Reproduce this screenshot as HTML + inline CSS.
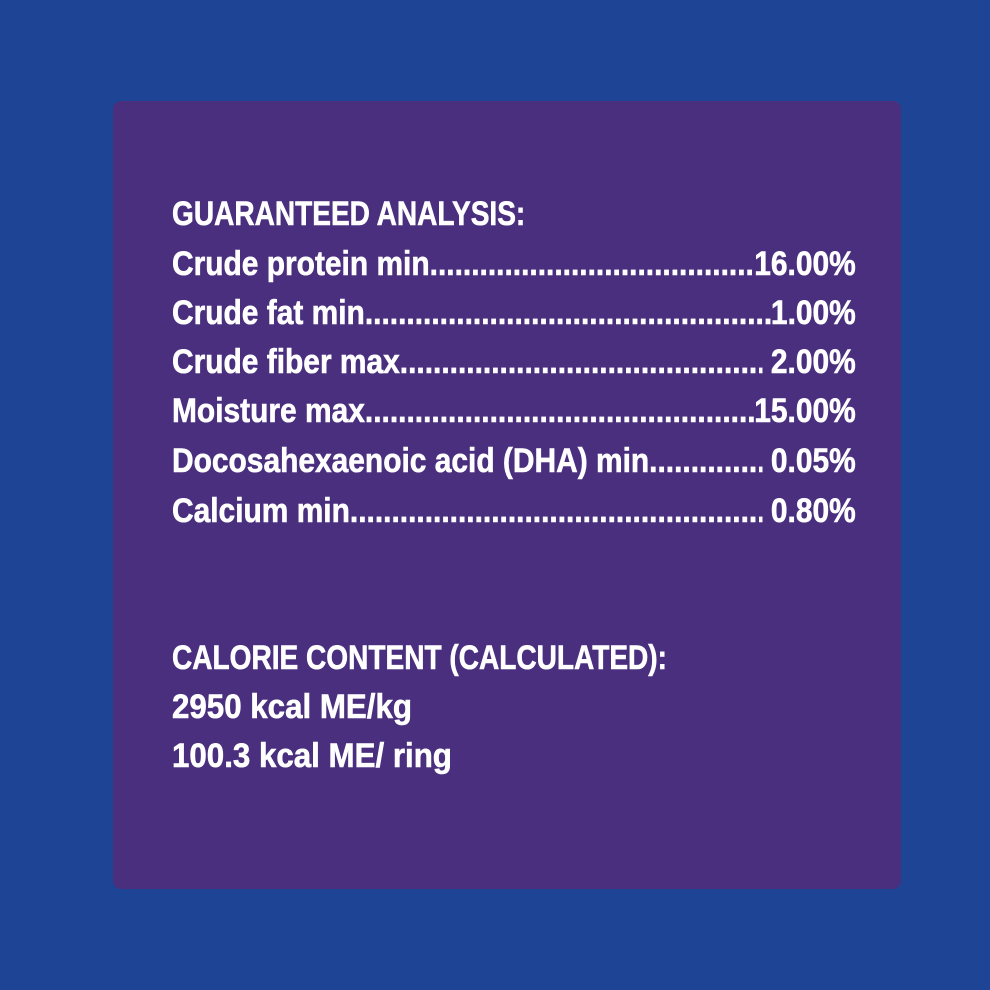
<!DOCTYPE html>
<html><head><meta charset="utf-8"><style>
html,body{margin:0;padding:0;}
body{width:990px;height:990px;background:#1e4595;position:relative;overflow:hidden;font-family:"Liberation Sans",sans-serif;}
.panel{position:absolute;left:113px;top:101px;width:788px;height:788px;background:#4a2f7f;border-radius:8px;}
.wrap{position:absolute;left:172px;width:777px;transform:scaleX(0.88);transform-origin:0 0;color:#fff;font-weight:bold;font-size:34px;line-height:36px;-webkit-text-stroke:0.6px #fff;}
.cap{width:auto;transform:scaleX(0.825);}
.row{display:flex;white-space:nowrap;}
.dots{flex:1;overflow:hidden;white-space:nowrap;letter-spacing:0px;}
</style></head><body>
<div class="panel"></div>
<div class="wrap cap" style="top:196px;">GUARANTEED ANALYSIS:</div>
<div class="wrap" style="top:246px;"><div class="row"><span>Crude protein min</span><span class="dots">....................................................................................................................</span><span>16.00%</span></div></div>
<div class="wrap" style="top:295px;"><div class="row"><span>Crude fat min</span><span class="dots">....................................................................................................................</span><span>1.00%</span></div></div>
<div class="wrap" style="top:344px;"><div class="row"><span>Crude fiber max</span><span class="dots">....................................................................................................................</span><span>&nbsp;2.00%</span></div></div>
<div class="wrap" style="top:393px;"><div class="row"><span>Moisture max</span><span class="dots">....................................................................................................................</span><span>15.00%</span></div></div>
<div class="wrap" style="top:443px;"><div class="row"><span>Docosahexaenoic acid (DHA) min</span><span class="dots">....................................................................................................................</span><span>&nbsp;0.05%</span></div></div>
<div class="wrap" style="top:493px;"><div class="row"><span>Calcium min</span><span class="dots">....................................................................................................................</span><span>&nbsp;0.80%</span></div></div>
<div class="wrap cap" style="top:640px;">CALORIE CONTENT (CALCULATED):</div>
<div class="wrap" style="top:689px;transform:scaleX(0.92);">2950 kcal ME/kg</div>
<div class="wrap" style="top:738px;transform:scaleX(0.92);">100.3 kcal ME/ ring</div>
</body></html>
